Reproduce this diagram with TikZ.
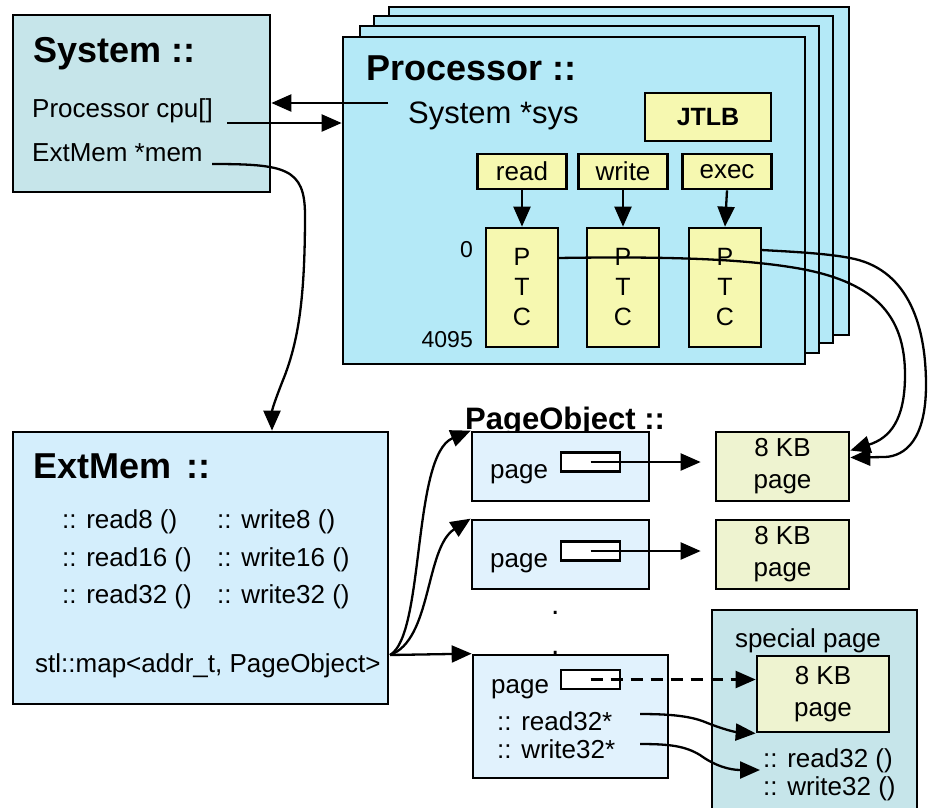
\documentclass[tikz,border=0pt]{standalone}
\usepackage{fontspec}
\setmainfont{Liberation Sans}
\usetikzlibrary{arrows.meta}
\definecolor{sysfill}{HTML}{C6E5EA}
\definecolor{procfill}{HTML}{B4E9F7}
\definecolor{memfill}{HTML}{D4EEFC}
\definecolor{pofill}{HTML}{E1F2FD}
\definecolor{ylw}{HTML}{F6F8B0}
\definecolor{pagefill}{HTML}{EEF3D0}
\tikzset{
  box/.style={draw=black, line width=2.7pt, inner sep=0pt},
  title/.style={inner sep=0pt, anchor=base west, font=\fontsize{36}{40}\selectfont\bfseries},
  txt/.style={inner sep=0pt, anchor=base west, font=\fontsize{26}{30}\selectfont},
  arr/.style={line width=2.3pt, -{Triangle[length=20pt,width=17pt]}},
  pagebox/.style={box, fill=pagefill, minimum width=133pt, minimum height=69pt,
    align=center, font=\fontsize{26}{32}\selectfont},
  pobox/.style={box, fill=pofill, minimum width=177pt, minimum height=69pt},
  slot/.style={box, fill=white, line width=2.5pt, minimum width=59pt, minimum height=19pt},
  ptcbox/.style={box, fill=ylw, minimum width=72pt, minimum height=119pt,
    align=center, font=\fontsize{25}{30}\selectfont},
  accbox/.style={box, fill=ylw, minimum width=89pt, minimum height=35pt,
    font=\fontsize{26}{30}\selectfont},
}
\begin{document}
\begin{tikzpicture}[x=1pt,y=-1pt]
\useasboundingbox (0,0) rectangle (929,807);

% ---- System object ----
\node[box, fill=sysfill, minimum width=257pt, minimum height=177pt] (sys) at (141.5,103.5) {};
\node[title] (systitle) at (33,62) {System ::};
\node[txt] (cpuarr) at (32,117) {Processor cpu[]};
\node[txt] (memptr) at (32,161) {ExtMem *mem};

% ---- stack of processors ----
\node[box, fill=procfill, minimum width=460pt, minimum height=328pt] (proc4) at (619,171) {};
\node[box, fill=procfill, minimum width=459pt, minimum height=327pt] (proc3) at (603.5,179.5) {};
\node[box, fill=procfill, minimum width=459pt, minimum height=327pt] (proc2) at (589.5,189.5) {};
\node[box, fill=procfill, minimum width=462pt, minimum height=327pt] (proc) at (574,200.5) {};
\node[title] (proctitle) at (366,80) {Processor ::};
\node[txt, font=\fontsize{31}{36}\selectfont] (sysptr) at (408,123) {System *sys};
\node[box, fill=ylw, minimum width=126pt, minimum height=48pt,
  font=\fontsize{25}{30}\selectfont\bfseries] (jtlb) at (708,117) {JTLB};
\node[accbox] (rd) at (522,171.5) {read};
\node[accbox] (wr) at (623,171.5) {write};
\node[accbox] (ex) at (727,171.5) {exec};
\node[ptcbox] (ptcR) at (522,287.5) {P\\T\\C};
\node[ptcbox] (ptcW) at (623,287.5) {P\\T\\C};
\node[ptcbox] (ptcX) at (725,287.5) {P\\T\\C};
\node[txt, anchor=base east, font=\fontsize{23}{28}\selectfont] (idx0) at (473,257) {0};
\node[txt, anchor=base east, font=\fontsize{23}{28}\selectfont] (idxN) at (473,347) {4095};

\draw[arr] (rd.south) -- (ptcR.north);
\draw[arr] (wr.south) -- (ptcW.north);
\draw[arr] (ex.south) -- (ptcX.north);

% pointers between System and Processor
\coordinate (sysptrL) at (388,103);
\coordinate (cpuL) at (227,123);
\coordinate (memL) at (212,164);
\coordinate (memT) at (272,0);
\draw[arr] (sysptrL) -- (sys.east |- sysptrL);
\draw[arr] (cpuL) -- (proc.west |- cpuL);

% ---- external memory ----
\node[box, fill=memfill, minimum width=375pt, minimum height=272pt] (extmem) at (200.5,568) {};
\node[title] (memtitle) at (33,478) {ExtMem\hspace{15pt}::};
\node[txt] (r8) at (62,528) {:: read8 ()};
\node[txt] (r16) at (62,566) {:: read16 ()};
\node[txt] (r32) at (62,603) {:: read32 ()};
\node[txt] (w8) at (217,528) {:: write8 ()};
\node[txt] (w16) at (217,566) {:: write16 ()};
\node[txt] (w32) at (217,603) {:: write32 ()};
\node[txt] (map) at (35,672) {stl::map<addr\_t, PageObject>};

\draw[arr] (memL) .. controls (285,164) and (305,168) .. (305,215)
  .. controls (305,300) and (298,340) .. (285,375)
  .. controls (275,400) and (272,410) .. (memT |- extmem.north);

% ---- page objects ----
\node[txt, font=\fontsize{31}{36}\selectfont\bfseries] (potitle) at (465,429) {PageObject ::};
\node[pobox] (po1) at (560.5,466.5) {};
\node[pobox] (po2) at (560.5,554.5) {};
\node[txt, font=\fontsize{30}{36}\selectfont] (dot1) at (551,614) {.};
\node[txt, font=\fontsize{30}{36}\selectfont] (dot2) at (551,654) {.};
\node[box, fill=pofill, minimum width=195pt, minimum height=123pt] (po3) at (570.5,716.5) {};

\node[txt] (pg1) at (490,478) {page};
\node[txt] (pg2) at (490,567) {page};
\node[txt] (pg3) at (491,693) {page};
\node[txt] (pr32) at (497,730) {:: read32*};
\node[txt] (pw32) at (497,758) {:: write32*};
\node[slot] (s1) at (590.5,462) {};
\node[slot] (s2) at (590.5,551) {};
\node[slot] (s3) at (590.5,679.5) {};

% ---- 8 KB pages ----
\node[pagebox] (kb1) at (782.5,466.5) {8 KB\\page};
\node[pagebox] (kb2) at (782.5,554.5) {8 KB\\page};
\node[box, fill=sysfill, minimum width=205pt, minimum height=200pt] (spec) at (814.5,710) {};
\node[txt, anchor=base] (spectitle) at (808,647) {special page};
\node[pagebox, minimum width=132pt, minimum height=76pt] (kbS) at (823,694) {8 KB\\page};
\node[txt] (sr32) at (763,767) {:: read32 ()};
\node[txt] (sw32) at (763,795) {:: write32 ()};

% page pointers
\draw[arr, shorten >=14pt] (s1.center) -- (kb1.west |- s1.center);
\draw[arr, shorten >=14pt] (s2.center) -- (kb2.west |- s2.center);
\draw[arr, dash pattern=on 12pt off 8pt] (s3.center) -- (kbS.west |- s3.center);

% handlers of the special page
\coordinate (hr) at (640,714);
\coordinate (hw) at (640,744);
\coordinate (hwT) at (760,770);
\draw[arr] (hr) .. controls (670,714) and (690,716) .. (705,722)
  .. controls (722,729) and (735,732) .. (kbS.south west);
\draw[arr] (hw) .. controls (670,744) and (685,746) .. (700,755)
  .. controls (715,766) and (730,770) .. (hwT);

% map entries
\coordinate (mapR) at (390,655);
\draw[arr] (mapR) .. controls (425,635) and (412,455) .. (po1.north west);
\draw[arr] (mapR) .. controls (432,640) and (425,548) .. (po2.north west);
\draw[arr] (mapR) -- (po3.north west);

% page table caches to their pages
\coordinate (ptcRo) at (558,258);
\coordinate (ptcXo) at (761,250);
\draw[arr] (ptcRo) .. controls (680,256) and (745,260) .. (790,267)
  .. controls (875,280) and (905,315) .. (905,375)
  .. controls (905,420) and (890,438) .. ([yshift=16pt]kb1.east);
\draw[arr] (ptcXo) .. controls (800,252) and (830,254) .. (850,258)
  .. controls (905,268) and (926,320) .. (926,385)
  .. controls (926,440) and (905,456) .. (885,457) -- ([yshift=9pt]kb1.east);
\end{tikzpicture}
\end{document}
